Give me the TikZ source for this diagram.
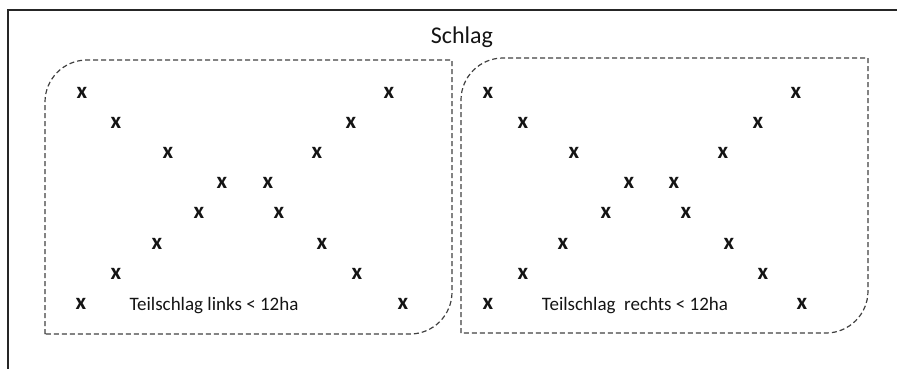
\documentclass[tikz,border=0pt]{standalone}
\usepackage{fontspec}
\setmainfont{Carlito}
\definecolor{frameColor}{RGB}{38,38,38}
\definecolor{dashColor}{RGB}{64,64,64}
\definecolor{inkColor}{RGB}{20,20,20}
\tikzstyle{sheet} = [x = 1pt, y = -1pt]
\tikzstyle{frameLine} = [color=frameColor, line width=2pt]
\tikzstyle{partBorder} = [color=dashColor, line width=1.2pt, dash pattern=on 5pt off 3pt]
\tikzstyle{crossText} = [color=inkColor, inner sep=0pt, font=\fontsize{23}{26}\selectfont\bfseries]
\tikzstyle{partText} = [color=inkColor, inner sep=0pt, anchor=base, font=\fontsize{19}{22}\selectfont]
\tikzstyle{titleText} = [color=inkColor, inner sep=0pt, anchor=base, font=\fontsize{24}{28}\selectfont]
\newcommand{\cornerRadius}{42}
\newcommand{\partField}[4]{\draw [partBorder] (#1, #4) -- (#1, #2 + \cornerRadius) arc [start angle=180, end angle=270, radius=\cornerRadius] -- (#3, #2) -- (#3, #4 - \cornerRadius) arc [start angle=0, end angle=90, radius=\cornerRadius] -- cycle;}
\begin{document}
\begin{tikzpicture}[sheet]
\clip (0,0) rectangle (897,368);
\draw [frameLine] (910, 10) -- (8, 10) -- (8, 380);
\node [titleText] (schlag) at (462,43) {Schlag};
\partField{45}{60}{452}{334}
\partField{461}{58}{868}{333}
\foreach \px/\py [count=\n] in {82/93, 116/123, 168/153, 222/183, 199/213, 157/244, 116/274, 81/304, 389/93, 351/123, 317/153, 268/183, 279/213, 322/244, 357/274, 403/304}
  \node [crossText] (leftCross\n) at (\px,\py) {x};
\foreach \px/\py [count=\n] in {488/93, 523/123, 574/153, 629/183, 606/213, 563/244, 523/274, 488/304, 796/93, 758/123, 723/153, 674/183, 686/213, 729/244, 763/274, 802/304}
  \node [crossText] (rightCross\n) at (\px,\py) {x};
\node [partText] (leftLabel) at (214,310) {Teilschlag links < 12ha};
\node [partText] (rightLabel) at (635,310) {Teilschlag~ rechts < 12ha};
\end{tikzpicture}
\end{document}
